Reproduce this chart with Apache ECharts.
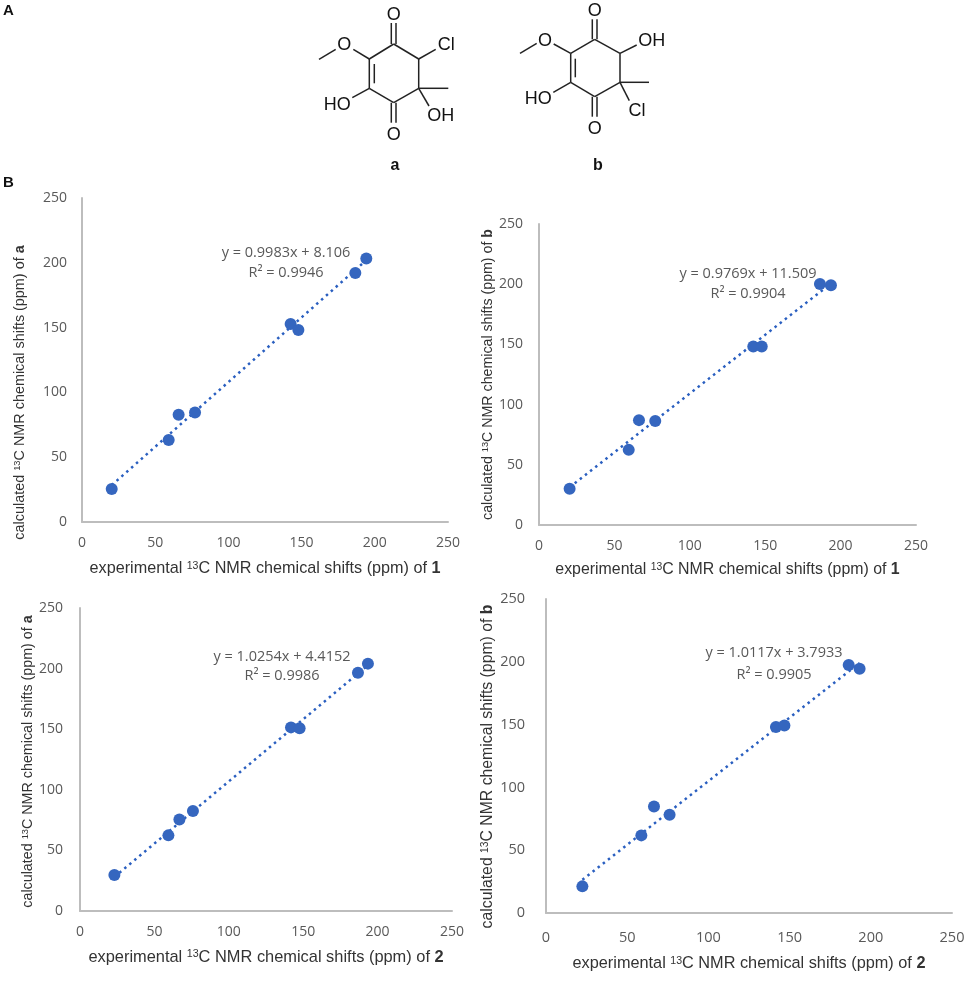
<!DOCTYPE html>
<html>
<head>
<meta charset="utf-8">
<title>Calculated vs experimental 13C NMR shifts</title>
<script src="https://cdn.jsdelivr.net/npm/echarts@6/dist/echarts.min.js"></script>
<style>
  html, body { margin: 0; padding: 0; background: #fff; }
  #chart { width: 970px; height: 981px; }
</style>
</head>
<body>
<div id="chart"></div>
<script>
// experimental / calculated shifts
const exp1a = [20.3, 59.2, 66.0, 77.2, 142.5, 147.8, 186.7, 194.2];
const calc1a = [25.5, 63.3, 82.8, 84.4, 152.8, 148.1, 192.1, 203.4];
const exp1b = [20.3, 59.5, 66.3, 77.1, 142.1, 147.7, 186.3, 193.6];
const calc1b = [30.2, 62.4, 87.1, 86.3, 148.2, 148.2, 200.1, 199.2];
const exp2a = [23.1, 59.4, 66.8, 75.9, 141.8, 147.6, 186.8, 193.5];
const calc2a = [29.7, 62.4, 75.4, 82.5, 151.5, 150.7, 196.6, 204.1];
const exp2b = [22.4, 58.7, 66.5, 76.1, 141.6, 146.8, 186.4, 193.1];
const calc2b = [21.2, 61.8, 84.7, 78.3, 148.1, 149.2, 197.5, 194.5];

// ends of the dotted trend lines
const trend1a = [[20.3, 28.4], [194.2, 202.0]];
const trend1b = [[20.3, 31.3], [193.6, 200.6]];
const trend2a = [[23.1, 28.1], [193.5, 202.8]];
const trend2b = [[22.4, 26.5], [193.1, 199.1]];

const eq1a = ['y = 0.9983x + 8.106', 'R² = 0.9946'];
const eq1b = ['y = 0.9769x + 11.509', 'R² = 0.9904'];
const eq2a = ['y = 1.0254x + 4.4152', 'R² = 0.9986'];
const eq2b = ['y = 1.0117x + 3.7933', 'R² = 0.9905'];

const tickMax = 250;
const tickStep = 50;

// one entry per plot: where it sits on the page and which data it takes
const panels = [
  { exp: exp1a, calc: calc1a, trend: trend1a, eq: eq1a, compound: '1', model: 'a',
    left: 82, top: 198, width: 366, height: 324, eqX: 286, eqY: [253, 273],
    xGap: 39, yGap: 55, xSize: 16.2, ySize: 14.4, yShift: 32.5, xMargin: 14, yMargin: 15, tickSize: 14 },
  { exp: exp1b, calc: calc1b, trend: trend1b, eq: eq1b, compound: '1', model: 'b',
    left: 539, top: 224, width: 377, height: 301, eqX: 748, eqY: [274, 294],
    xGap: 37, yGap: 44, xSize: 15.9, ySize: 14.2, yShift: 0, xMargin: 14, yMargin: 16, tickSize: 14 },
  { exp: exp2a, calc: calc2a, trend: trend2a, eq: eq2a, compound: '2', model: 'a',
    left: 80, top: 608, width: 372, height: 303, eqX: 282, eqY: [657, 676],
    xGap: 38, yGap: 45, xSize: 16.4, ySize: 14.3, yShift: 2, xMargin: 14, yMargin: 17, tickSize: 14 },
  { exp: exp2b, calc: calc2b, trend: trend2b, eq: eq2b, compound: '2', model: 'b',
    left: 546, top: 599, width: 406, height: 314, eqX: 774, eqY: [653, 675],
    xGap: 43, yGap: 50, xSize: 16.3, ySize: 15.8, yShift: 10.5, xMargin: 17, yMargin: 21, tickSize: 14.5 }
];

const grid = [], xAxis = [], yAxis = [], series = [], graphic = [];

const labelColor = '#595959';
const axisColor = '#BDBDBD';
const dotColor = '#3566BF';
const titleColor = '#333';

function titleStyle(size, padding) {
  return {
    color: titleColor, fontFamily: 'Liberation Sans', fontSize: size, padding: padding,
    rich: {
      sup: { fontFamily: 'Liberation Sans', fontSize: size * 0.65, color: titleColor, verticalAlign: 'top' },
      bold: { fontFamily: 'Liberation Sans', fontSize: size, color: titleColor, fontWeight: 'bold' }
    }
  };
}

panels.forEach((p, i) => {
  grid.push({ left: p.left, top: p.top, width: p.width, height: p.height });

  const base = {
    gridIndex: i,
    type: 'value',
    min: 0,
    max: tickMax,
    interval: tickStep,
    splitLine: { show: false },
    axisTick: { show: false },
    axisLine: { onZero: false, lineStyle: { color: axisColor, width: 2 } },
    nameLocation: 'middle'
  };
  const tickLabel = { color: labelColor, fontFamily: 'Open Sans', fontSize: p.tickSize, showMaxLabel: true, showMinLabel: true };
  xAxis.push(Object.assign({}, base, {
    name: 'experimental {sup|13}C NMR chemical shifts (ppm) of {bold|' + p.compound + '}',
    nameGap: p.xGap,
    axisLabel: Object.assign({ margin: p.xMargin }, tickLabel),
    nameTextStyle: titleStyle(p.xSize, 0)
  }));
  yAxis.push(Object.assign({}, base, {
    name: 'calculated {sup|13}C NMR chemical shifts (ppm) of {bold|' + p.model + '}',
    nameGap: p.yGap,
    axisLabel: Object.assign({ margin: p.yMargin }, tickLabel),
    // right padding pushes the rotated title down along the axis
    nameTextStyle: titleStyle(p.ySize, [0, p.yShift * 2, 0, 0])
  }));

  series.push({
    type: 'line',
    xAxisIndex: i,
    yAxisIndex: i,
    data: p.trend,
    showSymbol: false,
    silent: true,
    z: 1,
    lineStyle: { color: '#2A5FC0', width: 2.5, type: [2.5, 4] }
  });
  series.push({
    type: 'scatter',
    xAxisIndex: i,
    yAxisIndex: i,
    data: p.exp.map((x, k) => [x, p.calc[k]]),
    symbolSize: 12,
    z: 2,
    itemStyle: { color: dotColor, opacity: 1 }
  });

  p.eq.forEach((line, k) => {
    graphic.push({
      type: 'text', x: p.eqX, y: p.eqY[k],
      style: { text: line, fill: labelColor, font: '14.5px "Open Sans"', textAlign: 'center', textVerticalAlign: 'middle' }
    });
  });
});

// panel letters and compound labels
function addText(text, x, y, font, align) {
  graphic.push({
    type: 'text', x: x, y: y,
    style: { text: text, fill: '#111', font: font, textAlign: align || 'center', textVerticalAlign: 'middle' }
  });
}
addText('A', 3, 11, 'bold 15px "Liberation Sans"', 'left');
addText('B', 3, 183, 'bold 15px "Liberation Sans"', 'left');
addText('a', 395, 166, 'bold 16px "Liberation Sans"');
addText('b', 598, 166, 'bold 16px "Liberation Sans"');

// structures a and b: bonds as x1,y1,x2,y2 on the page
const bondsA = [
  [393.7, 44, 418.7, 59], [418.7, 59, 418.7, 88.3], [418.7, 88.3, 393.7, 102.7],
  [393.7, 102.7, 369.3, 88.3], [369.3, 88.3, 369.3, 59], [369.3, 59, 393.7, 44],
  [374.3, 64, 374.3, 83.3],
  [391.3, 44, 391.3, 23], [396, 44, 396, 23], [391.3, 102.7, 391.3, 122.7], [396, 102.7, 396, 122.7],
  [369.3, 59, 353.3, 49.3], [335.7, 49.3, 319, 59.3],
  [418.7, 59, 435.7, 49.3], [418.7, 88.3, 448.3, 88.3], [418.7, 88.3, 429, 106],
  [369.3, 88.3, 352.3, 97.7]
];
const atomsA = [['O', 393.7, 15], ['O', 393.7, 135], ['O', 344.3, 45.5], ['Cl', 446.3, 45.5], ['OH', 440.7, 116], ['HO', 337.3, 105]];
const bondsB = [
  [594.7, 39.3, 620, 53.3], [620, 53.3, 620, 82.3], [620, 82.3, 594.7, 96.7],
  [594.7, 96.7, 570.7, 82.3], [570.7, 82.3, 570.7, 53.3], [570.7, 53.3, 594.7, 39.3],
  [575.3, 58.7, 575.3, 77.3],
  [592.3, 39.3, 592.3, 19.3], [597, 39.3, 597, 19.3], [592.3, 96.7, 592.3, 116.7], [597, 96.7, 597, 116.7],
  [570.7, 53.3, 553.7, 44], [536.7, 43.3, 520, 53.3],
  [620, 53.3, 636.7, 45], [620, 82.3, 649, 82.3], [620, 82.3, 629.3, 100.7],
  [570.7, 82.3, 553.3, 92.3]
];
const atomsB = [['O', 594.7, 11], ['O', 594.7, 129], ['O', 545, 41], ['OH', 651.7, 41], ['Cl', 637, 111], ['HO', 538.3, 99]];

[bondsA, bondsB].forEach(list => list.forEach(b => {
  graphic.push({
    type: 'line',
    shape: { x1: b[0], y1: b[1], x2: b[2], y2: b[3] },
    style: { stroke: '#222', lineWidth: 1.5 }
  });
}));
[atomsA, atomsB].forEach(list => list.forEach(a => {
  addText(a[0], a[1], a[2], '18px "Liberation Sans"');
}));

const myChart = echarts.init(document.getElementById('chart'));
myChart.setOption({
  animation: false,
  backgroundColor: '#fff',
  grid: grid,
  xAxis: xAxis,
  yAxis: yAxis,
  series: series,
  graphic: graphic
});
</script>
</body>
</html>
